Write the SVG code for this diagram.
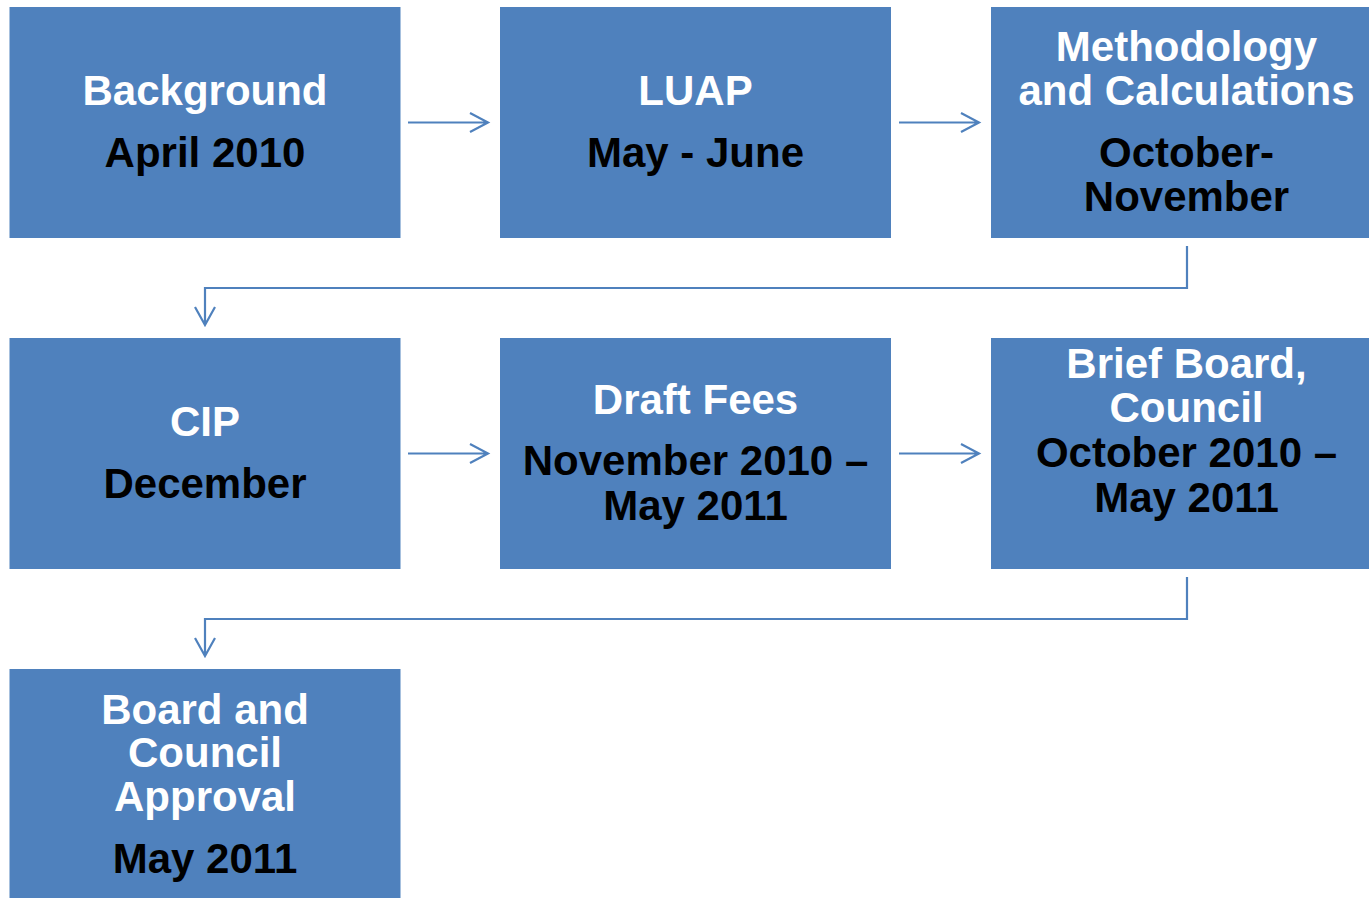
<svg xmlns="http://www.w3.org/2000/svg" width="1369" height="898" viewBox="0 0 1369 898">
<style>
.box{fill:#4F81BD}
.t{font-family:"Liberation Sans",Arial,sans-serif;font-weight:bold;font-size:42px;text-anchor:middle}
.w{fill:#FFFFFF}
.b{fill:#000000}
.c{fill:none;stroke:#4F81BD;stroke-width:2.2}
</style>
<rect width="1369" height="898" fill="#FFFFFF"/>
<g id="connectors">
<path class="c" d="M408 122.5H488M470 113L488 122.5L470 132"/>
<path class="c" d="M899 122.5H979M961 113L979 122.5L961 132"/>
<path class="c" d="M1187 246V288H205V325M195 307L205 325L215 307"/>
<path class="c" d="M408 453.5H488M470 444L488 453.5L470 463"/>
<path class="c" d="M899 453.5H979M961 444L979 453.5L961 463"/>
<path class="c" d="M1187 577V619H205V656M195 638L205 656L215 638"/>
</g>
<g id="n1">
<rect class="box" x="9.5" y="7" width="391" height="231"/>
<text class="t w" x="205" y="105">Background</text>
<text class="t b" x="205" y="167">April 2010</text>
</g>
<g id="n2">
<rect class="box" x="500" y="7" width="391" height="231"/>
<text class="t w" x="695.5" y="105">LUAP</text>
<text class="t b" x="695.5" y="167">May - June</text>
</g>
<g id="n3">
<rect class="box" x="991" y="7" width="391" height="231"/>
<text class="t w" x="1186.5" y="61">Methodology</text>
<text class="t w" x="1186.5" y="105">and Calculations</text>
<text class="t b" x="1186.5" y="167">October-</text>
<text class="t b" x="1186.5" y="211">November</text>
</g>
<g id="n4">
<rect class="box" x="9.5" y="338" width="391" height="231"/>
<text class="t w" x="205" y="436">CIP</text>
<text class="t b" x="205" y="498">December</text>
</g>
<g id="n5">
<rect class="box" x="500" y="338" width="391" height="231"/>
<text class="t w" x="695.5" y="414">Draft Fees</text>
<text class="t b" x="695.5" y="475">November 2010 –</text>
<text class="t b" x="695.5" y="520">May 2011</text>
</g>
<g id="n6">
<rect class="box" x="991" y="338" width="391" height="231"/>
<text class="t w" x="1186.5" y="378">Brief Board,</text>
<text class="t w" x="1186.5" y="422">Council</text>
<text class="t b" x="1186.5" y="467">October 2010 –</text>
<text class="t b" x="1186.5" y="512">May 2011</text>
</g>
<g id="n7">
<rect class="box" x="9.5" y="669" width="391" height="231"/>
<text class="t w" x="205" y="724">Board and</text>
<text class="t w" x="205" y="767">Council</text>
<text class="t w" x="205" y="811">Approval</text>
<text class="t b" x="205" y="873">May 2011</text>
</g>
</svg>
